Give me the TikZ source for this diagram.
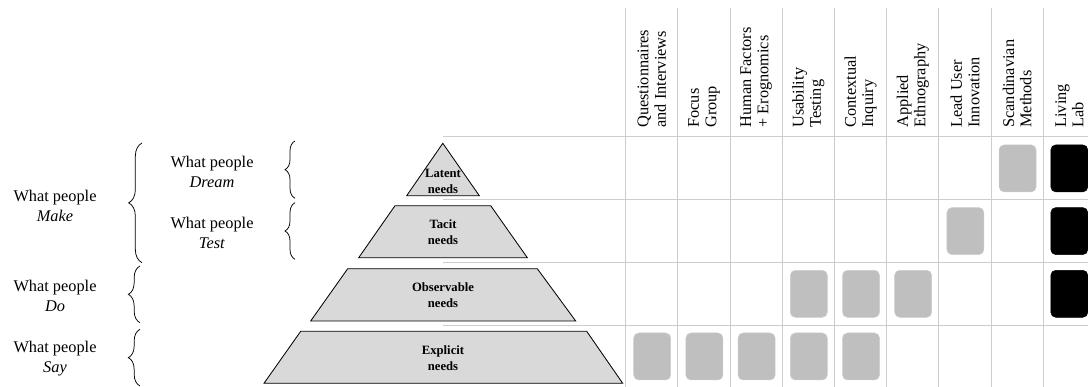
\documentclass[tikz,border=0pt]{standalone}
\usepackage{fontspec}
\setmainfont{Liberation Serif}
\usetikzlibrary{decorations.pathreplacing}
\definecolor{gridgray}{RGB}{205,205,205}
\definecolor{markgray}{RGB}{191,191,191}
\definecolor{needgray}{RGB}{217,217,217}

\begin{document}
\begin{tikzpicture}[x=0.6pt,y=-0.6pt,
  people/.style={align=center,inner sep=0pt,font=\fontsize{9.8}{12}\selectfont},
  head/.style={rotate=90,anchor=west,align=left,inner sep=0pt,font=\fontsize{9.8}{10.4}\selectfont},
  needs/.style={align=center,inner sep=0pt,font=\fontsize{7.6}{9.6}\selectfont\bfseries},
  layer/.style={fill=needgray,draw=black,line width=0.5pt},
  curly/.style={decorate,decoration={brace,amplitude=#1},line width=0.45pt},
  curly/.default=7pt,
  gridline/.style={gridgray,line width=0.6pt},
  markg/.style={fill=markgray,draw=gridgray,line width=0.3pt,rounded corners=3pt,minimum width=22.2pt,minimum height=28.2pt,inner sep=0pt},
  markb/.style={markg,fill=black,draw=black}]
\useasboundingbox (0,0) rectangle (1088,387);

% grid
\foreach \i in {0,...,8}
  \draw [gridline] ({625.7+52.2*\i},8) -- ({625.7+52.2*\i},387);
\foreach \y in {137,199.7,262.4,325.1}
  \draw [gridline] (443,\y) -- (1088,\y);

% column heads
\foreach \t [count=\i from 0] in {{Questionnaires\\and Interviews},{Focus\\Group},{Human Factors\\+ Erognomics},{Usability\\Testing},{Contextual\\Inquiry},{Applied\\Ethnography},{Lead User\\Innovation},{Scandinavian\\Methods},{Living\\Lab}}
  \node [head] (h\i) at ({651.8+52.2*\i},128) {\t};

% pyramid
\filldraw [layer] (406.7,195.7) -- (442.8,143.3) -- (479.3,195.7) -- cycle;
\filldraw [layer] (358.7,257.7) -- (395,205.7) -- (490.7,205.7) -- (527.3,257.7) -- cycle;
\filldraw [layer] (310.7,321) -- (347.7,268.7) -- (537.3,268.7) -- (575.7,321) -- cycle;
\filldraw [layer] (264,383.3) -- (300.7,331.3) -- (586.7,331.3) -- (622.7,383.3) -- cycle;
\node [needs] (latent) at (443,181) {Latent\\needs};
\node [needs] (tacit) at (443,232.5) {Tacit\\needs};
\node [needs] (observable) at (443,295.5) {Observable\\needs};
\node [needs] (explicit) at (443,358.5) {Explicit\\needs};

% what people ...
\node [people] (make) at (55,205.7) {What people\\\textit{Make}};
\node [people] (dream) at (212,171.7) {What people\\\textit{Dream}};
\node [people] (test) at (212,232.5) {What people\\\textit{Test}};
\node [people] (do) at (55,295.5) {What people\\\textit{Do}};
\node [people] (say) at (55,358.8) {What people\\\textit{Say}};

\draw [curly=8pt] (142,262.7) -- (142,143);
\draw [curly=6pt] (295,198.3) -- (295,141);
\draw [curly=6pt] (295,259.3) -- (295,202.7);
\draw [curly] (140,322.7) -- (140,266);
\draw [curly] (140,386) -- (140,329.3);

% marks
\foreach \c/\r in {8/1,7/2,4/3,5/3,6/3,1/4,2/4,3/4,4/4,5/4}
  \node [markg] (m\r\c) at ({625.7+52.2*(\c-1)+26.5},{137+62.7*(\r-1)+31.4}) {};
\foreach \r in {1,2,3}
  \node [markb] (m\r9) at ({625.7+52.2*8+26},{137+62.7*(\r-1)+31.4}) {};

\end{tikzpicture}
\end{document}
